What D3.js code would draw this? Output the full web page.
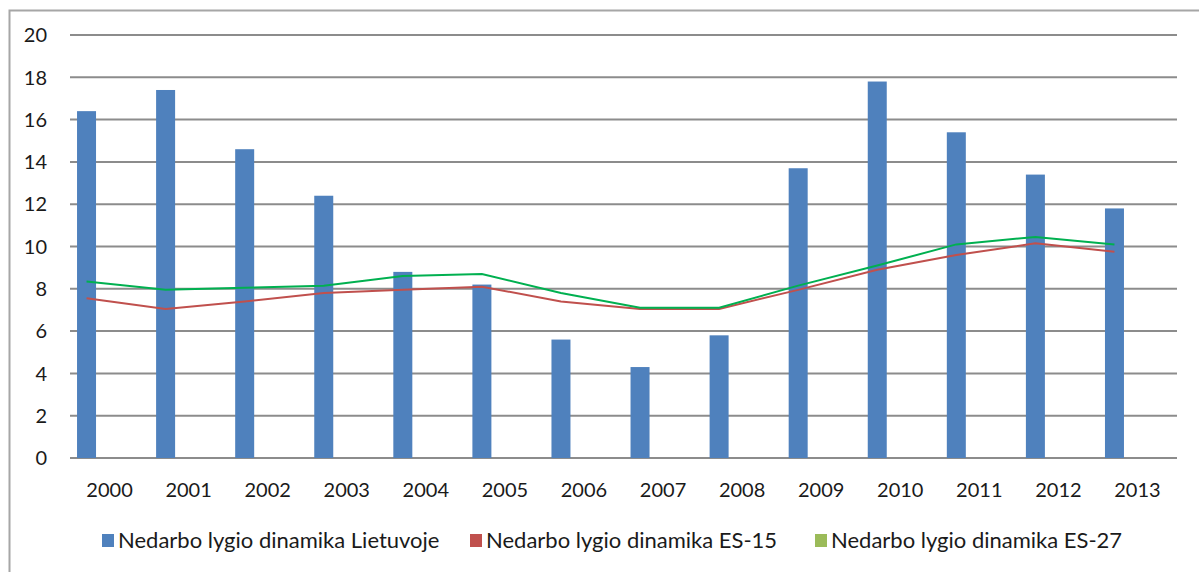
<!DOCTYPE html>
<meta charset="utf-8">
<style>
  html, body { margin: 0; padding: 0; background: #fff; overflow: hidden; }
  text { font-family: Lato, "Open Sans", sans-serif; fill: #1a1a1a; }
  .grid line { stroke: #8c8c8c; stroke-width: 2px; }
  .axis text { font-size: 20px; }
  .legend text { font-size: 22px; }
</style>
<body>
<svg width="1199" height="572"></svg>
<script src="https://cdn.jsdelivr.net/npm/d3@7"></script>
<script>
// data
var years = ["2000","2001","2002","2003","2004","2005","2006","2007","2008","2009","2010","2011","2012","2013"];
var lietuva = [16.4, 17.4, 14.6, 12.4, 8.8, 8.2, 5.6, 4.3, 5.8, 13.7, 17.8, 15.4, 13.4, 11.8];
var es15 = [7.55, 7.05, 7.4, 7.8, 7.95, 8.1, 7.4, 7.05, 7.05, 7.95, 8.9, 9.6, 10.15, 9.75];
var es27 = [8.35, 7.95, 8.05, 8.15, 8.6, 8.7, 7.8, 7.1, 7.1, 8.15, 9.1, 10.1, 10.45, 10.1];
var yTicks = [0, 2, 4, 6, 8, 10, 12, 14, 16, 18, 20];
var legendNames = ["Nedarbo lygio dinamika Lietuvoje", "Nedarbo lygio dinamika ES-15", "Nedarbo lygio dinamika ES-27"];

var colBlue = "#4f81bd", colRed = "#c0504d", colGreen = "#00b050", colGreenKey = "#9bbb59";

var plotLeft = 70, plotRight = 1177, plotTop = 35, plotBottom = 458;
var barW = 19, barShift = -23;

var svg = d3.select("svg");

// outer frame (left and top edges visible)
svg.append("path")
  .attr("d", "M9.5,572 L9.5,10.5 L1199,10.5")
  .attr("fill", "none")
  .attr("stroke", "#a6a6a6")
  .attr("stroke-width", 2);

var x = d3.scaleBand().domain(years).range([plotLeft, plotRight]);
var y = d3.scaleLinear().domain([0, 20]).range([plotBottom, plotTop]);

function cx(d) { return x(d) + x.bandwidth() / 2 + barShift; }

svg.append("g").attr("class", "grid")
  .selectAll("line")
  .data(yTicks)
  .enter().append("line")
    .attr("x1", plotLeft).attr("x2", plotRight)
    .attr("y1", function(d) { return y(d); })
    .attr("y2", function(d) { return y(d); });

svg.append("g").attr("class", "axis")
  .selectAll("text")
  .data(yTicks)
  .enter().append("text")
    .attr("x", 47)
    .attr("y", function(d) { return y(d); })
    .attr("dy", "0.36em")
    .attr("text-anchor", "end")
    .text(function(d) { return d; });

svg.append("g")
  .selectAll("rect")
  .data(lietuva)
  .enter().append("rect")
    .attr("x", function(d, i) { return cx(years[i]) - barW / 2; })
    .attr("y", function(d) { return y(d); })
    .attr("width", barW)
    .attr("height", function(d) { return plotBottom - y(d); })
    .attr("fill", colBlue);

var line = d3.line()
  .x(function(d, i) { return cx(years[i]); })
  .y(function(d) { return y(d); });

svg.append("path").datum(es15)
  .attr("d", line).attr("fill", "none")
  .attr("stroke", colRed).attr("stroke-width", 2);

svg.append("path").datum(es27)
  .attr("d", line).attr("fill", "none")
  .attr("stroke", colGreen).attr("stroke-width", 2);

svg.append("g").attr("class", "axis")
  .selectAll("text")
  .data(years)
  .enter().append("text")
    .attr("x", function(d) { return x(d) + x.bandwidth() / 2; })
    .attr("y", 497)
    .attr("text-anchor", "middle")
    .text(function(d) { return d; });

// legend
var legendX = [102, 470, 815];
var legendCol = [colBlue, colRed, colGreenKey];
var lg = svg.append("g").attr("class", "legend")
  .selectAll("g")
  .data(legendNames)
  .enter().append("g")
    .attr("transform", function(d, i) { return "translate(" + legendX[i] + ",0)"; });

lg.append("rect")
  .attr("x", 0).attr("y", 534)
  .attr("width", 12).attr("height", 13)
  .attr("fill", function(d, i) { return legendCol[i]; });

lg.append("text")
  .attr("x", 16).attr("y", 548)
  .text(function(d) { return d; });
</script>
</body>
